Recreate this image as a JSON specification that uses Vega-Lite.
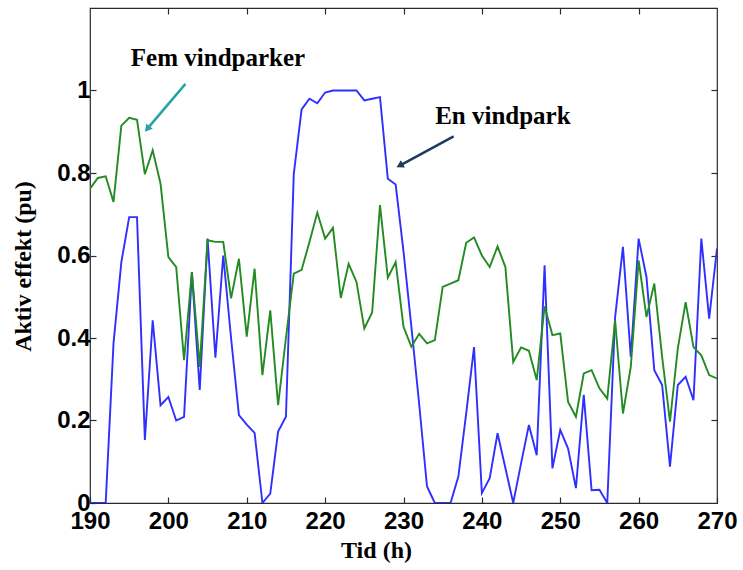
{
  "$schema": "https://vega.github.io/schema/vega-lite/v6.json",
  "width": 627,
  "height": 495,
  "autosize": {"type": "none"},
  "padding": {"left": 90, "top": 8, "right": 26, "bottom": 67},
  "background": "white",
  "config": {
    "view": {"stroke": "#2b2b2b", "strokeWidth": 1.2},
    "axis": {"grid": false, "domain": false, "tickColor": "#2b2b2b", "tickWidth": 1.2, "labelColor": "black", "titleColor": "black"}
  },
  "datasets": {
    "en": [
      {"tid":190,"effekt":0},{"tid":191,"effekt":0},{"tid":192,"effekt":0},{"tid":193,"effekt":0.387},{"tid":194,"effekt":0.584},
      {"tid":195,"effekt":0.693},{"tid":196,"effekt":0.693},{"tid":197,"effekt":0.153},{"tid":198,"effekt":0.443},{"tid":199,"effekt":0.237},
      {"tid":200,"effekt":0.257},{"tid":201,"effekt":0.2},{"tid":202,"effekt":0.209},{"tid":203,"effekt":0.56},{"tid":204,"effekt":0.274},
      {"tid":205,"effekt":0.641},{"tid":206,"effekt":0.352},{"tid":207,"effekt":0.6},{"tid":208,"effekt":0.4},{"tid":209,"effekt":0.213},
      {"tid":210,"effekt":0.19},{"tid":211,"effekt":0.17},{"tid":212,"effekt":0},{"tid":213,"effekt":0.023},{"tid":214,"effekt":0.173},
      {"tid":215,"effekt":0.209},{"tid":216,"effekt":0.798},{"tid":217,"effekt":0.954},{"tid":218,"effekt":0.98},{"tid":219,"effekt":0.969},
      {"tid":220,"effekt":0.995},{"tid":221,"effekt":1},{"tid":222,"effekt":1},{"tid":223,"effekt":1},{"tid":224,"effekt":1},
      {"tid":225,"effekt":0.976},{"tid":226,"effekt":0.98},{"tid":227,"effekt":0.984},{"tid":228,"effekt":0.786},{"tid":229,"effekt":0.772},
      {"tid":230,"effekt":0.61},{"tid":231,"effekt":0.428},{"tid":232,"effekt":0.24},{"tid":233,"effekt":0.04},{"tid":234,"effekt":0},
      {"tid":235,"effekt":0},{"tid":236,"effekt":0},{"tid":237,"effekt":0.064},{"tid":238,"effekt":0.217},{"tid":239,"effekt":0.378},
      {"tid":240,"effekt":0.024},{"tid":241,"effekt":0.06},{"tid":242,"effekt":0.169},{"tid":243,"effekt":0.085},{"tid":244,"effekt":0},
      {"tid":245,"effekt":0.096},{"tid":246,"effekt":0.189},{"tid":247,"effekt":0.116},{"tid":248,"effekt":0.576},{"tid":249,"effekt":0.084},
      {"tid":250,"effekt":0.177},{"tid":251,"effekt":0.132},{"tid":252,"effekt":0.036},{"tid":253,"effekt":0.262},{"tid":254,"effekt":0.031},
      {"tid":255,"effekt":0.032},{"tid":256,"effekt":0},{"tid":257,"effekt":0.45},{"tid":258,"effekt":0.621},{"tid":259,"effekt":0.354},
      {"tid":260,"effekt":0.641},{"tid":261,"effekt":0.548},{"tid":262,"effekt":0.322},{"tid":263,"effekt":0.286},{"tid":264,"effekt":0.088},
      {"tid":265,"effekt":0.286},{"tid":266,"effekt":0.306},{"tid":267,"effekt":0.249},{"tid":268,"effekt":0.641},{"tid":269,"effekt":0.447},
      {"tid":270,"effekt":0.617}
    ],
    "fem": [
      {"tid":190,"effekt":0.762},{"tid":191,"effekt":0.788},{"tid":192,"effekt":0.792},{"tid":193,"effekt":0.73},{"tid":194,"effekt":0.915},
      {"tid":195,"effekt":0.934},{"tid":196,"effekt":0.929},{"tid":197,"effekt":0.797},{"tid":198,"effekt":0.855},{"tid":199,"effekt":0.774},
      {"tid":200,"effekt":0.596},{"tid":201,"effekt":0.572},{"tid":202,"effekt":0.346},{"tid":203,"effekt":0.56},{"tid":204,"effekt":0.33},
      {"tid":205,"effekt":0.637},{"tid":206,"effekt":0.633},{"tid":207,"effekt":0.633},{"tid":208,"effekt":0.496},{"tid":209,"effekt":0.592},
      {"tid":210,"effekt":0.403},{"tid":211,"effekt":0.568},{"tid":212,"effekt":0.31},{"tid":213,"effekt":0.467},{"tid":214,"effekt":0.237},
      {"tid":215,"effekt":0.4},{"tid":216,"effekt":0.556},{"tid":217,"effekt":0.565},{"tid":218,"effekt":0.633},{"tid":219,"effekt":0.704},
      {"tid":220,"effekt":0.641},{"tid":221,"effekt":0.667},{"tid":222,"effekt":0.497},{"tid":223,"effekt":0.58},{"tid":224,"effekt":0.536},
      {"tid":225,"effekt":0.423},{"tid":226,"effekt":0.462},{"tid":227,"effekt":0.722},{"tid":228,"effekt":0.546},{"tid":229,"effekt":0.584},
      {"tid":230,"effekt":0.427},{"tid":231,"effekt":0.379},{"tid":232,"effekt":0.41},{"tid":233,"effekt":0.387},{"tid":234,"effekt":0.395},
      {"tid":235,"effekt":0.524},{"tid":236,"effekt":0.532},{"tid":237,"effekt":0.54},{"tid":238,"effekt":0.631},{"tid":239,"effekt":0.644},
      {"tid":240,"effekt":0.6},{"tid":241,"effekt":0.572},{"tid":242,"effekt":0.622},{"tid":243,"effekt":0.572},{"tid":244,"effekt":0.342},
      {"tid":245,"effekt":0.377},{"tid":246,"effekt":0.369},{"tid":247,"effekt":0.298},{"tid":248,"effekt":0.477},{"tid":249,"effekt":0.407},
      {"tid":250,"effekt":0.411},{"tid":251,"effekt":0.245},{"tid":252,"effekt":0.209},{"tid":253,"effekt":0.314},{"tid":254,"effekt":0.322},
      {"tid":255,"effekt":0.278},{"tid":256,"effekt":0.253},{"tid":257,"effekt":0.443},{"tid":258,"effekt":0.217},{"tid":259,"effekt":0.33},
      {"tid":260,"effekt":0.588},{"tid":261,"effekt":0.451},{"tid":262,"effekt":0.532},{"tid":263,"effekt":0.354},{"tid":264,"effekt":0.197},
      {"tid":265,"effekt":0.375},{"tid":266,"effekt":0.487},{"tid":267,"effekt":0.378},{"tid":268,"effekt":0.358},{"tid":269,"effekt":0.31},
      {"tid":270,"effekt":0.302}
    ],
    "notes": [
      {"tekst":"Fem vindparker","tid":206.33,"effekt":1.059},
      {"tekst":"En vindpark","tid":242.68,"effekt":0.919}
    ],
    "arrows": [
      {"pil":"Fem vindparker","tid":202.18,"effekt":1.016,"tid2":197.3,"effekt2":0.907},
      {"pil":"En vindpark","tid":236.4,"effekt":0.889,"tid2":229.52,"effekt2":0.818}
    ]
  },
  "layer": [
    {
      "data": {"name": "en"},
      "mark": {"type": "line", "color": "#2f2fff", "strokeWidth": 1.9, "clip": true},
      "encoding": {
        "x": {"field": "tid", "type": "quantitative", "scale": {"domain": [190, 270], "nice": false, "zero": false},
          "axis": {"orient": "bottom", "values": [190,200,210,220,230,240,250,260,270], "tickSize": -6, "labelPadding": 12,
            "labelFont": "Liberation Sans", "labelFontWeight": "bold", "labelFontSize": 24, "labelFlush": false, "labelOverlap": false,
            "title": "Tid (h)", "titleFont": "Liberation Serif", "titleFontWeight": "bold", "titleFontSize": 24,
            "titleX": 286, "titleY": 47, "titleBaseline": "middle"}},
        "y": {"field": "effekt", "type": "quantitative", "scale": {"domain": [0, 1.2], "nice": false},
          "axis": {"orient": "left", "values": [0,0.2,0.4,0.6,0.8,1], "format": "~g", "tickSize": -6, "labelPadding": 6,
            "labelFont": "Liberation Sans", "labelFontWeight": "bold", "labelFontSize": 24, "labelFlush": false, "labelOverlap": false,
            "title": "Aktiv effekt (pu)", "titleFont": "Liberation Serif", "titleFontWeight": "bold", "titleFontSize": 24,
            "titleX": -67, "titleY": 258, "titleBaseline": "middle"}}
      }
    },
    {
      "data": {"name": "fem"},
      "mark": {"type": "line", "color": "#228b22", "strokeWidth": 1.9, "clip": true},
      "encoding": {
        "x": {"field": "tid", "type": "quantitative", "axis": {"orient": "top", "values": [200,210,220,230,240,250,260], "tickSize": -6, "labels": false, "title": null}},
        "y": {"field": "effekt", "type": "quantitative", "axis": {"orient": "right", "values": [0.2,0.4,0.6,0.8,1], "tickSize": -6, "labels": false, "title": null}}
      }
    },
    {
      "data": {"name": "arrows"},
      "mark": {"type": "rule", "strokeWidth": 2.5},
      "encoding": {
        "x": {"field": "tid", "type": "quantitative", "axis": null},
        "y": {"field": "effekt", "type": "quantitative", "axis": null},
        "x2": {"field": "tid2"},
        "y2": {"field": "effekt2"},
        "color": {"field": "pil", "type": "nominal", "scale": {"domain": ["Fem vindparker", "En vindpark"], "range": ["#27a3a3", "#1d3a63"]}, "legend": null}
      }
    },
    {
      "data": {"name": "arrows"},
      "mark": {"type": "point", "shape": "triangle-up", "filled": true, "opacity": 1, "size": 70},
      "encoding": {
        "x": {"field": "tid2", "type": "quantitative", "axis": null},
        "y": {"field": "effekt2", "type": "quantitative", "axis": null},
        "angle": {"field": "pil", "type": "nominal", "scale": {"domain": ["Fem vindparker", "En vindpark"], "range": [220, 241.5]}, "legend": null},
        "color": {"field": "pil", "type": "nominal", "scale": {"domain": ["Fem vindparker", "En vindpark"], "range": ["#27a3a3", "#1d3a63"]}, "legend": null}
      }
    },
    {
      "data": {"name": "notes"},
      "mark": {"type": "text", "font": "Liberation Serif", "fontWeight": "bold", "fontSize": 25, "align": "center", "baseline": "alphabetic", "color": "black"},
      "encoding": {
        "x": {"field": "tid", "type": "quantitative", "axis": null},
        "y": {"field": "effekt", "type": "quantitative", "axis": null},
        "text": {"field": "tekst"}
      }
    }
  ],
  "resolve": {"axis": {"x": "independent", "y": "independent"}}
}
